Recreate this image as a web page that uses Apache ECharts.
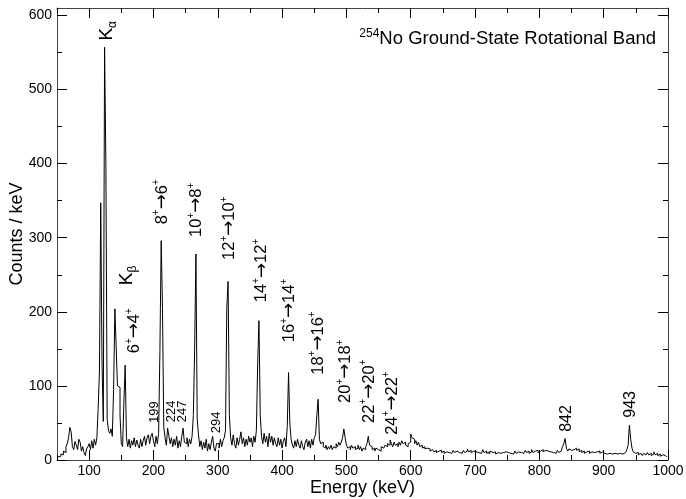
<!DOCTYPE html>
<html><head><meta charset="utf-8">
<script src="https://cdn.jsdelivr.net/npm/echarts@6/dist/echarts.min.js"></script>
<style>html,body{margin:0;padding:0;background:#fff}#c{width:686px;height:499px}</style>
</head><body><div id="c"></div>
<script>
// 2 keV bins starting at 50 keV
const BIN_START = 50, BIN_WIDTH = 2;
const counts = [
  4,6,5,8,7, 12,10,18,22,30, 44,38,18,14,25, 20,14,28,24,12, 18,10,6,15,18,
  22,14,26,16,28, 20,30,70,120,347, 130,52,557,400,55, 40,36,42,32,95, 204,153,100,98,60,
  22,18,78,128,30, 18,28,16,26,20, 30,18,27,20,16, 28,18,26,32,20, 30,34,22,32,36,
  26,18,32,22,36, 146,296,206,45,30, 20,43,32,22,30, 18,28,20,32,16, 26,18,32,43,24,
  22,30,18,28,22, 32,60,150,278,55, 34,18,26,14,24, 16,28,12,22,14, 24,32,16,12,22,
  22,16,28,18,26, 30,40,205,241,60, 30,20,34,22,16, 30,20,28,38,22, 30,18,28,20,32,
  24,30,18,32,24, 40,130,188,60,32, 22,36,24,32,18, 36,24,32,20,30, 22,18,30,20,28,
  16,26,30,18,45, 118,50,28,20,16, 26,18,28,20,16, 26,18,14,24,28, 18,26,16,28,20,
  30,34,60,82,28, 22,24,18,16,20, 14,18,15,20,14, 18,16,22,18,24, 20,24,30,42,30,
  20,16,18,14,20, 16,18,14,16,20, 14,18,12,16,14, 18,22,32,20,18, 14,16,12,16,14,
  16,12,18,16,14, 20,18,22,20,27, 22,18,24,20,22, 18,24,20,26,22, 24,20,18,22,24,
  35,30,28,22,26, 20,24,18,20,16, 18,15,16,14,15, 12,14,12,11,13, 10,12,11,13,10,
  12,9,11,13,10, 12,9,11,13,10, 12,14,10,12,9, 11,13,10,12,15, 11,13,10,12,14,
  11,13,10,12,9, 11,14,10,12,9, 11,8,12,10,9, 11,8,10,12,9, 11,10,8,11,9,
  10,12,9,11,8, 10,12,9,11,13, 10,12,9,11,13, 10,12,9,11,14, 10,12,11,13,10,
  12,10,14,11,13, 15,12,14,11,13, 10,12,9,11,13, 10,12,14,18,22, 29,16,12,15,13,
  11,14,12,16,13, 15,11,13,10,12, 9,11,10,12,9, 11,12,10,9,11, 10,12,9,11,10,
  9,11,8,10,9, 11,8,10,9,11, 8,10,9,11,8, 9,10,12,14,20, 47,28,16,11,9,
  8,10,7,9,8, 6,9,7,8,10, 7,9,6,8,11, 7,9,6,8,5, 7,9,6,5,4
];
const energies = counts.map((_, i) => BIN_START + BIN_WIDTH * (i + 0.5));

const xMajorTicks = [100,200,300,400,500,600,700,800,900,1000];
const xMinorTicks = [50,150,250,350,450,550,650,750,850,950];
const yMajorTicks = [0,100,200,300,400,500,600];
const yMinorTicks = [50,150,250,350,450,550];

// transition labels: [from, to, anchor energy, anchor counts (bottom of label)]
const transitions = [
  [6,4,171,144],[8,6,213.5,318],[10,8,267.4,301],[12,10,318.7,270],
  [14,12,368.5,213],[16,14,412,159],[18,16,456,115],[20,18,499,77],
  [22,20,536,50],[24,22,572,34]
];
const xrayLabels = [['α',127.5,566],['β',158.5,236]];
const smallLines = [['199',200.7,50],['224',228,51],['247',245,51],['294',298,36]];
const bigLines = [['842',842,38],['943',941.3,57]];

const FONT = '"Liberation Sans", Arial, Helvetica, sans-serif';
const AXC = '#444';

function xAx(pos, ticks, len, showLine, showLabels) {
  const a = {
    type:'value', position:pos, min:50, max:1000, interval:50,
    axisLine:{show:showLine, onZero:false, lineStyle:{color:AXC, width:1}},
    axisTick:{show:true, inside:true, length:len, customValues:ticks, lineStyle:{color:'#000', width:1}},
    axisLabel:{show:showLabels, customValues:ticks, margin:4, color:'#000', fontSize:14, fontFamily:FONT,
               formatter:v => String(v)},
    splitLine:{show:false}
  };
  if (showLabels) {
    a.name = 'Energy (keV)'; a.nameLocation = 'middle'; a.nameGap = 19; a.nameMoveOverlap = false;
    a.nameTextStyle = {fontSize:18, fontFamily:FONT, color:'#000'};
  }
  return a;
}
function yAx(pos, ticks, len, showLine, showLabels) {
  const a = {
    type:'value', position:pos, min:0, max:610, interval:50,
    axisLine:{show:showLine, onZero:false, lineStyle:{color:AXC, width:1}},
    axisTick:{show:true, inside:true, length:len, customValues:ticks, lineStyle:{color:'#000', width:1}},
    axisLabel:{show:showLabels, customValues:ticks, margin:5, color:'#000', fontSize:14, fontFamily:FONT,
               formatter:v => String(v)},
    splitLine:{show:false}
  };
  if (showLabels) {
    a.name = 'Counts / keV'; a.nameLocation = 'middle'; a.nameGap = 31; a.nameMoveOverlap = false;
    a.nameTextStyle = {fontSize:18, fontFamily:FONT, color:'#000'};
  }
  return a;
}

const chart = echarts.init(document.getElementById('c'), null, {renderer:'canvas'});
chart.setOption({
  animation:false,
  backgroundColor:'#fff',
  grid:{left:57, right:18, top:8, bottom:39, containLabel:false, outerBoundsMode:'none'},
  xAxis:[
    xAx('bottom', xMajorTicks, 10, true, true),
    xAx('bottom', xMinorTicks, 5, false, false),
    xAx('top', xMajorTicks, 10, true, false),
    xAx('top', xMinorTicks, 5, false, false)
  ],
  yAxis:[
    yAx('left', yMajorTicks, 10, true, true),
    yAx('left', yMinorTicks, 5, false, false),
    yAx('right', yMajorTicks, 10, true, false),
    yAx('right', yMinorTicks, 5, false, false)
  ],
  series:[{
    type:'line', xAxisIndex:0, yAxisIndex:0,
    data: energies.map((e, i) => [e, counts[i]]),
    step:'middle', showSymbol:false, symbol:'none',
    lineStyle:{color:'#000', width:1}, clip:true
  }]
});

const toPx = (e, c) => chart.convertToPixel({seriesIndex:0}, [e, c]);
const richStyles = {
  m:{fontSize:16.5, fontFamily:FONT, lineHeight:22, fill:'#000'},
  a:{fontSize:18, fontFamily:'"DejaVu Sans", sans-serif', lineHeight:22, fill:'#000'},
  s:{fontSize:10, fontFamily:FONT, lineHeight:10, verticalAlign:'top', fill:'#000'},
  k:{fontSize:19, fontFamily:FONT, lineHeight:24, fill:'#000'},
  sub:{fontSize:12, fontFamily:FONT, lineHeight:12, verticalAlign:'bottom', fill:'#000'}
};
function rotText(text, e, c, extra) {
  const p = toPx(e, c);
  return {
    type:'text', x:p[0], y:p[1], rotation:Math.PI/2, silent:true,
    style:Object.assign({text:text, rich:richStyles, align:'left', verticalAlign:'middle', fill:'#000', fontFamily:FONT}, extra || {})
  };
}
const elements = [];
transitions.forEach(t => elements.push(rotText(`{m|${t[0]}}{s|+}{a|→}{m|${t[1]}}{s|+}`, t[2], t[3])));
xrayLabels.forEach(t => elements.push(rotText(`{k|K}{sub|${t[0]}}`, t[1], t[2])));
smallLines.forEach(t => elements.push(rotText(t[0], t[1], t[2], {fontSize:13})));
bigLines.forEach(t => elements.push(rotText(t[0], t[1], t[2], {fontSize:16})));
elements.push({
  type:'text', x:656, y:39, silent:true,
  style:{
    text:'{sup|254}{t|No Ground-State Rotational Band}',
    rich:{
      sup:{fontSize:12, fontFamily:FONT, lineHeight:12, verticalAlign:'top', fill:'#000'},
      t:{fontSize:18.5, fontFamily:FONT, lineHeight:23, fill:'#000'}
    },
    align:'right', verticalAlign:'middle'
  }
});
chart.setOption({graphic:{elements:elements}});
</script>
</body></html>
